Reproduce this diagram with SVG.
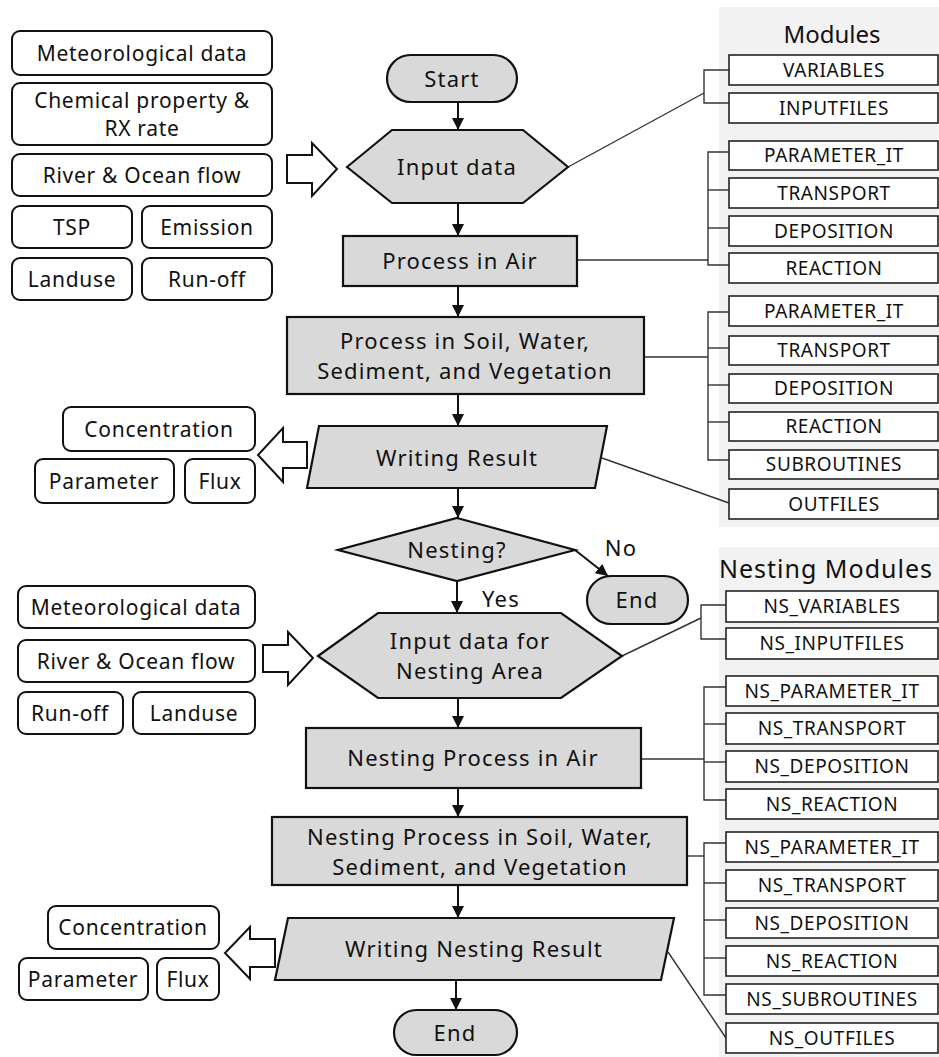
<svg xmlns="http://www.w3.org/2000/svg" width="939" height="1057" viewBox="0 0 939 1057">
<defs>
<marker id="ah" viewBox="0 0 12 12" refX="12" refY="6" markerWidth="12" markerHeight="12" markerUnits="userSpaceOnUse" orient="auto">
<path d="M0,0 L12,6 L0,12 Z" fill="#111"/>
</marker>
<style>
text{font-family:"Noto Sans","Open Sans","DejaVu Sans",sans-serif;fill:#111;text-anchor:middle;dominant-baseline:central}
.in{fill:#fff;stroke:#111;stroke-width:2}
.sh{fill:#d9d9d9;stroke:#111;stroke-width:2.2}
.mod{fill:#fff;stroke:#222;stroke-width:1.6}
.panel{fill:#f2f2f2;stroke:none}
.t{font-size:21px;letter-spacing:0.7px}
.m{font-size:22px;letter-spacing:1.2px}
.s{font-size:19px;letter-spacing:0.6px}
.h{font-size:24px}
.h2{font-size:25px;letter-spacing:1px}
.flow{stroke:#111;stroke-width:2;fill:none;marker-end:url(#ah)}
.br{stroke:#333;stroke-width:1.4;fill:none}
.blk{fill:#fff;stroke:#111;stroke-width:2;stroke-linejoin:miter}
</style>
</defs>
<rect width="939" height="1057" fill="#fff"/>

<g id="panel-modules">
<rect class="panel" x="719" y="7" width="220" height="520"/>
<text class="h" x="832" y="33">Modules</text>
</g>
<g id="panel-nesting-modules">
<rect class="panel" x="719" y="547" width="220" height="510"/>
<text class="h2" x="826" y="568">Nesting Modules</text>
</g>

<g id="inputs-1">
<rect class="in" x="12" y="31" width="260" height="44" rx="8"/><text class="t" x="142" y="53">Meteorological data</text>
<rect class="in" x="12" y="83" width="260" height="62" rx="8"/><text class="t" x="142" y="100">Chemical property &amp;</text><text class="t" x="142" y="128">RX rate</text>
<rect class="in" x="12" y="154" width="260" height="42" rx="8"/><text class="t" x="142" y="175">River &amp; Ocean flow</text>
<rect class="in" x="12" y="206" width="120" height="42" rx="8"/><text class="t" x="72" y="227">TSP</text>
<rect class="in" x="142" y="206" width="130" height="42" rx="8"/><text class="t" x="207" y="227">Emission</text>
<rect class="in" x="12" y="258" width="120" height="42" rx="8"/><text class="t" x="72" y="279">Landuse</text>
<rect class="in" x="142" y="258" width="130" height="42" rx="8"/><text class="t" x="207" y="279">Run-off</text>
<polygon class="blk" points="287,155 312,155 312,143 337,169 312,196 312,183 287,183"/>
</g>

<g id="outputs-1">
<rect class="in" x="63" y="407" width="192" height="44" rx="8"/><text class="t" x="159" y="429">Concentration</text>
<rect class="in" x="35" y="459" width="139" height="44" rx="8"/><text class="t" x="104" y="481">Parameter</text>
<rect class="in" x="185" y="459" width="70" height="44" rx="8"/><text class="t" x="220" y="481">Flux</text>
<polygon class="blk" points="307,442 283,442 283,428 258,455 283,482 283,468 307,468"/>
</g>

<g id="inputs-2">
<rect class="in" x="18" y="586" width="237" height="42" rx="8"/><text class="t" x="136" y="607">Meteorological data</text>
<rect class="in" x="18" y="640" width="237" height="42" rx="8"/><text class="t" x="136" y="661">River &amp; Ocean flow</text>
<rect class="in" x="18" y="692" width="105" height="42" rx="8"/><text class="t" x="70" y="713">Run-off</text>
<rect class="in" x="133" y="692" width="122" height="42" rx="8"/><text class="t" x="194" y="713">Landuse</text>
<polygon class="blk" points="263,645 288,645 288,632 313,658 288,685 288,672 263,672"/>
</g>

<g id="outputs-2">
<rect class="in" x="48" y="906" width="171" height="43" rx="8"/><text class="t" x="133" y="927">Concentration</text>
<rect class="in" x="19" y="958" width="129" height="42" rx="8"/><text class="t" x="83" y="979">Parameter</text>
<rect class="in" x="157" y="958" width="62" height="42" rx="8"/><text class="t" x="188" y="979">Flux</text>
<polygon class="blk" points="275,939 250,939 250,927 225,953 250,979 250,967 275,967"/>
</g>

<g id="connectors">
<line class="flow" x1="458" y1="102" x2="458" y2="130"/>
<line class="flow" x1="458" y1="203" x2="458" y2="236"/>
<line class="flow" x1="458" y1="286" x2="458" y2="317"/>
<line class="flow" x1="458" y1="394" x2="458" y2="426"/>
<line class="flow" x1="458" y1="488" x2="458" y2="518"/>
<line class="flow" x1="457" y1="581" x2="457" y2="613"/>
<line class="flow" x1="575" y1="550" x2="608" y2="576"/>
<line class="flow" x1="458" y1="698" x2="458" y2="728"/>
<line class="flow" x1="458" y1="788" x2="458" y2="817"/>
<line class="flow" x1="458" y1="885" x2="458" y2="918"/>
<line class="flow" x1="456" y1="980" x2="456" y2="1010"/>
<text class="m" x="501" y="598">Yes</text>
<text class="m" x="621" y="547">No</text>

<polyline class="br" points="568,167 704,93"/>
<polyline class="br" points="729,70 704,70 704,103 729,103"/>
<polyline class="br" points="577,260 708,260"/>
<polyline class="br" points="729,152 708,152 708,265 729,265"/>
<line class="br" x1="708" y1="190" x2="729" y2="190"/>
<line class="br" x1="708" y1="228" x2="729" y2="228"/>
<polyline class="br" points="644,357 708,357"/>
<polyline class="br" points="729,312 708,312 708,460 729,460"/>
<line class="br" x1="708" y1="348" x2="729" y2="348"/>
<line class="br" x1="708" y1="385" x2="729" y2="385"/>
<line class="br" x1="708" y1="422" x2="729" y2="422"/>
<polyline class="br" points="602,458 729,503"/>

<polyline class="br" points="622,656 701,618"/>
<polyline class="br" points="726,605 701,605 701,639 726,639"/>
<polyline class="br" points="641,759 704,759"/>
<polyline class="br" points="726,687 704,687 704,800 726,800"/>
<line class="br" x1="704" y1="724" x2="726" y2="724"/>
<line class="br" x1="704" y1="762" x2="726" y2="762"/>
<polyline class="br" points="687,856 704,856"/>
<polyline class="br" points="726,843 704,843 704,995 726,995"/>
<line class="br" x1="704" y1="883" x2="726" y2="883"/>
<line class="br" x1="704" y1="920" x2="726" y2="920"/>
<line class="br" x1="704" y1="958" x2="726" y2="958"/>
<polyline class="br" points="668,952 726,1038"/>
</g>

<g id="start"><rect class="sh" x="387" y="55" width="130" height="47" rx="23.5"/><text class="m" x="452" y="78">Start</text></g>
<g id="input-data"><polygon class="sh" points="347,167 392,130 523,130 568,167 523,203 392,203"/><text class="m" x="457" y="166">Input data</text></g>
<g id="process-air"><rect class="sh" x="343" y="236" width="234" height="50"/><text class="m" x="460" y="260">Process in Air</text></g>
<g id="process-soil"><rect class="sh" x="287" y="317" width="357" height="77"/><text class="m" x="465" y="340">Process in Soil, Water,</text><text class="m" x="465" y="370">Sediment, and Vegetation</text></g>
<g id="writing-result"><polygon class="sh" points="319,426 607,426 595,488 307,488"/><text class="m" x="457" y="457">Writing Result</text></g>
<g id="nesting"><polygon class="sh" points="457,518 575,550 457,581 338,550"/><text class="m" x="457" y="549">Nesting?</text></g>
<g id="end-1"><rect class="sh" x="587" y="576" width="101" height="48" rx="24"/><text class="m" x="637" y="599">End</text></g>
<g id="input-nesting"><polygon class="sh" points="318,656 378,613 561,613 622,656 561,698 378,698"/><text class="m" x="470" y="640">Input data for</text><text class="m" x="470" y="670">Nesting Area</text></g>
<g id="nesting-air"><rect class="sh" x="306" y="728" width="335" height="60"/><text class="m" x="473" y="757">Nesting Process in Air</text></g>
<g id="nesting-soil"><rect class="sh" x="272" y="817" width="415" height="68"/><text class="m" x="480" y="836">Nesting Process in Soil, Water,</text><text class="m" x="480" y="866">Sediment, and Vegetation</text></g>
<g id="writing-nesting"><polygon class="sh" points="288,918 674,918 661,980 275,980"/><text class="m" x="474" y="948">Writing Nesting Result</text></g>
<g id="end-2"><rect class="sh" x="394" y="1010" width="123" height="45" rx="22.5"/><text class="m" x="455" y="1032">End</text></g>

<g id="modules">
<rect class="mod" x="729" y="55" width="209" height="30"/><text class="s" x="834" y="70">VARIABLES</text>
<rect class="mod" x="729" y="93" width="209" height="30"/><text class="s" x="834" y="108">INPUTFILES</text>
<rect class="mod" x="729" y="141" width="209" height="29"/><text class="s" x="834" y="155">PARAMETER_IT</text>
<rect class="mod" x="729" y="178" width="209" height="30"/><text class="s" x="834" y="193">TRANSPORT</text>
<rect class="mod" x="729" y="216" width="209" height="30"/><text class="s" x="834" y="231">DEPOSITION</text>
<rect class="mod" x="729" y="253" width="209" height="30"/><text class="s" x="834" y="268">REACTION</text>
<rect class="mod" x="729" y="296" width="209" height="30"/><text class="s" x="834" y="311">PARAMETER_IT</text>
<rect class="mod" x="729" y="336" width="209" height="29"/><text class="s" x="834" y="350">TRANSPORT</text>
<rect class="mod" x="729" y="374" width="209" height="29"/><text class="s" x="834" y="388">DEPOSITION</text>
<rect class="mod" x="729" y="412" width="209" height="29"/><text class="s" x="834" y="426">REACTION</text>
<rect class="mod" x="729" y="450" width="209" height="29"/><text class="s" x="834" y="464">SUBROUTINES</text>
<rect class="mod" x="729" y="489" width="209" height="30"/><text class="s" x="834" y="504">OUTFILES</text>
</g>

<g id="nesting-modules">
<rect class="mod" x="726" y="591" width="212" height="31"/><text class="s" x="832" y="606">NS_VARIABLES</text>
<rect class="mod" x="726" y="628" width="212" height="31"/><text class="s" x="832" y="643">NS_INPUTFILES</text>
<rect class="mod" x="726" y="676" width="212" height="30"/><text class="s" x="832" y="691">NS_PARAMETER_IT</text>
<rect class="mod" x="726" y="713" width="212" height="31"/><text class="s" x="832" y="728">NS_TRANSPORT</text>
<rect class="mod" x="726" y="751" width="212" height="31"/><text class="s" x="832" y="766">NS_DEPOSITION</text>
<rect class="mod" x="726" y="789" width="212" height="30"/><text class="s" x="832" y="804">NS_REACTION</text>
<rect class="mod" x="726" y="832" width="212" height="30"/><text class="s" x="832" y="847">NS_PARAMETER_IT</text>
<rect class="mod" x="726" y="870" width="212" height="31"/><text class="s" x="832" y="885">NS_TRANSPORT</text>
<rect class="mod" x="726" y="908" width="212" height="30"/><text class="s" x="832" y="923">NS_DEPOSITION</text>
<rect class="mod" x="726" y="946" width="212" height="30"/><text class="s" x="832" y="961">NS_REACTION</text>
<rect class="mod" x="726" y="984" width="212" height="30"/><text class="s" x="832" y="999">NS_SUBROUTINES</text>
<rect class="mod" x="726" y="1023" width="212" height="30"/><text class="s" x="832" y="1038">NS_OUTFILES</text>
</g>
</svg>
